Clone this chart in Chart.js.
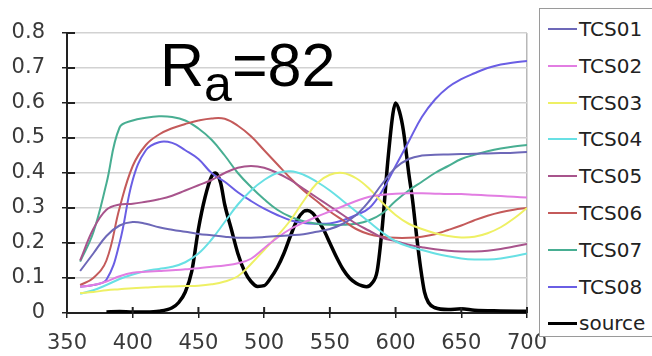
<!DOCTYPE html>
<html lang="en">
<head>
    <meta charset="UTF-8">
    <title>TCS reflectance and source spectrum</title>
    <script src="https://cdn.jsdelivr.net/npm/chart.js"></script>
    <style>
        html, body { margin: 0; padding: 0; background: #fff; }
        .wrap { position: relative; width: 652px; height: 356px; overflow: hidden; }
        #spectrum { position: absolute; left: 0; top: 0; }
        .ra {
            position: absolute; left: 160px; top: 35px;
            font-family: "Liberation Sans", Arial, sans-serif;
            font-size: 61px; line-height: 61px; color: #000; white-space: nowrap;
        }
        .ra .sub { font-size: 50px; position: relative; top: 15px; }
        .legend {
            position: absolute; left: 539px; top: 8px; width: 130px; height: 327px;
            border: 1.5px solid #9a9a9a; background: #fff;
        }
        .legend .row { position: absolute; left: 0; height: 22px; }
        .legend .swatch { position: absolute; left: 8px; width: 29px; }
        .legend .name {
            position: absolute; left: 39px; top: 0; line-height: 22px;
            font-family: "DejaVu Sans", sans-serif; font-size: 20px; color: #222; white-space: nowrap;
        }
    </style>
</head>
<body>
    <div class="wrap">
        <canvas id="spectrum" width="652" height="356"></canvas>
        <div class="ra">R<span class="sub">a</span>=82</div>
        <div class="legend" id="legend"></div>
    </div>

    <script>
        // wavelengths (nm) for the test colour samples
        const wavelengths = [360, 370, 380, 390, 400, 410, 420, 430, 440, 450, 460, 470, 480, 490, 500,
            510, 520, 530, 540, 550, 560, 570, 580, 590, 600, 610, 620, 630, 640, 650, 660, 670, 680, 690, 700];

        const tcs01 = [0.12, 0.17, 0.22, 0.25, 0.26, 0.255, 0.245, 0.238, 0.232, 0.226, 0.222, 0.218, 0.215, 0.215, 0.217,
            0.22, 0.222, 0.225, 0.232, 0.24, 0.255, 0.28, 0.32, 0.37, 0.415, 0.44, 0.45, 0.452, 0.453, 0.454, 0.455, 0.456, 0.457, 0.458, 0.46];
        const tcs02 = [0.075, 0.08, 0.09, 0.105, 0.115, 0.118, 0.12, 0.122, 0.125, 0.128, 0.132, 0.136, 0.142, 0.155, 0.185,
            0.215, 0.24, 0.258, 0.275, 0.29, 0.305, 0.32, 0.332, 0.338, 0.341, 0.342, 0.342, 0.341, 0.34, 0.34, 0.338, 0.336, 0.334, 0.332, 0.33];
        const tcs03 = [0.057, 0.06, 0.065, 0.068, 0.071, 0.073, 0.075, 0.076, 0.077, 0.078, 0.082, 0.09, 0.105, 0.14, 0.18,
            0.22, 0.265, 0.32, 0.37, 0.395, 0.4, 0.385, 0.355, 0.315, 0.28, 0.255, 0.24, 0.228, 0.22, 0.216, 0.218, 0.228, 0.245, 0.27, 0.3];
        const tcs04 = [0.055, 0.065, 0.08, 0.097, 0.11, 0.12, 0.126, 0.132, 0.145, 0.17, 0.21, 0.26, 0.31, 0.35, 0.38,
            0.4, 0.405, 0.395, 0.375, 0.35, 0.32, 0.29, 0.26, 0.23, 0.205, 0.19, 0.18, 0.17, 0.162, 0.156, 0.153, 0.153, 0.156, 0.162, 0.17];
        const tcs05 = [0.15, 0.24, 0.295, 0.31, 0.312, 0.318, 0.325, 0.335, 0.35, 0.365, 0.38, 0.4, 0.415, 0.42, 0.415,
            0.4, 0.38, 0.355, 0.33, 0.305, 0.28, 0.255, 0.235, 0.215, 0.205, 0.195, 0.188, 0.182, 0.178, 0.176, 0.176, 0.178, 0.183, 0.19, 0.197];
        const tcs06 = [0.08, 0.1, 0.15, 0.3, 0.42, 0.48, 0.51, 0.528, 0.54, 0.55, 0.556, 0.555, 0.535, 0.505, 0.465,
            0.425, 0.385, 0.35, 0.32, 0.29, 0.265, 0.24, 0.225, 0.218, 0.215, 0.215, 0.218, 0.225, 0.237, 0.25, 0.265, 0.278, 0.288, 0.295, 0.3];
        const tcs07 = [0.147, 0.23, 0.37, 0.53, 0.55, 0.558, 0.562, 0.56, 0.55, 0.527, 0.495, 0.45, 0.4, 0.36, 0.325,
            0.295, 0.275, 0.262, 0.255, 0.252, 0.252, 0.255, 0.265, 0.285, 0.32, 0.35, 0.375, 0.4, 0.42, 0.44, 0.452, 0.462, 0.47, 0.476, 0.48];
        const tcs08 = [0.075, 0.08, 0.095, 0.2, 0.38, 0.465, 0.488, 0.486, 0.465, 0.44, 0.4, 0.375, 0.345, 0.32, 0.298,
            0.28, 0.265, 0.257, 0.255, 0.256, 0.265, 0.28, 0.3, 0.35, 0.42, 0.49, 0.56, 0.61, 0.645, 0.668, 0.685, 0.7, 0.71, 0.716, 0.72];

        // source spectrum, sampled more finely around the peaks
        const sourceWl = [380, 390, 400, 410, 420, 430, 435, 440, 445, 450, 455, 460, 463, 467, 470, 475, 480, 485, 490, 495,
            500, 505, 510, 515, 520, 525, 530, 533, 537, 540, 545, 550, 555, 560, 565, 570, 575, 578, 582, 586, 590, 594, 598,
            600, 603, 606, 610, 613, 616, 619, 622, 625, 630, 640, 650, 660, 680, 700];
        const sourceVal = [0.003, 0.004, 0.003, 0.003, 0.005, 0.015, 0.03, 0.06, 0.12, 0.24, 0.33, 0.39, 0.4, 0.37, 0.31, 0.24, 0.17, 0.12, 0.09, 0.076,
            0.078, 0.1, 0.13, 0.17, 0.22, 0.265, 0.29, 0.293, 0.285, 0.27, 0.24, 0.2, 0.16, 0.125, 0.1, 0.085, 0.077, 0.075, 0.085, 0.12, 0.25, 0.43, 0.57,
            0.6, 0.575, 0.52, 0.4, 0.32, 0.22, 0.13, 0.06, 0.03, 0.015, 0.01, 0.012, 0.008, 0.006, 0.005];

        const seriesNames = ['TCS01', 'TCS02', 'TCS03', 'TCS04', 'TCS05', 'TCS06', 'TCS07', 'TCS08', 'source'];
        const seriesColors = ['#6d68b8', '#e27de2', '#eef064', '#68e0e4', '#a8548c', '#c45a5a', '#48ae92', '#6a5ee4', '#000000'];
        const tcsValues = [tcs01, tcs02, tcs03, tcs04, tcs05, tcs06, tcs07, tcs08];

        const xTicks = [350, 400, 450, 500, 550, 600, 650, 700];
        const yTickLabels = ['0', '0.1', '0.2', '0.3', '0.4', '0.5', '0.6', '0.7', '0.8'];

        const datasets = tcsValues.map((vals, i) => ({
            label: seriesNames[i],
            data: vals.map((v, j) => ({ x: wavelengths[j], y: v })),
            borderColor: seriesColors[i],
            borderWidth: 2,
            pointRadius: 0,
            tension: 0.4
        }));
        datasets.push({
            label: seriesNames[8],
            data: sourceVal.map((v, j) => ({ x: sourceWl[j], y: v })),
            borderColor: seriesColors[8],
            borderWidth: 3.5,
            pointRadius: 0,
            cubicInterpolationMode: 'monotone'
        });

        // small tick marks reaching into the plot, like the original axes
        const innerTicks = {
            id: 'innerTicks',
            afterDraw(chart) {
                const ctx = chart.ctx;
                const xs = chart.scales.x, ys = chart.scales.y;
                ctx.save();
                ctx.strokeStyle = '#222';
                ctx.lineWidth = 2;
                ctx.beginPath();
                ys.ticks.forEach(t => {
                    const py = ys.getPixelForValue(t.value);
                    ctx.moveTo(xs.left, py);
                    ctx.lineTo(xs.left + 8, py);
                });
                xs.ticks.forEach(t => {
                    const px = xs.getPixelForValue(t.value);
                    ctx.moveTo(px, ys.bottom);
                    ctx.lineTo(px, ys.bottom - 6);
                });
                ctx.stroke();
                ctx.restore();
            }
        };

        const tickFont = { family: 'DejaVu Sans', size: 21 };

        new Chart(document.getElementById('spectrum'), {
            type: 'line',
            data: { datasets: datasets },
            options: {
                responsive: false,
                animation: false,
                layout: { padding: { left: 0, top: 33, right: 125, bottom: 0 } },
                plugins: { legend: { display: false }, tooltip: { enabled: false } },
                scales: {
                    x: {
                        type: 'linear',
                        min: 350,
                        max: 700,
                        afterFit: s => { s.height = 43; },
                        afterBuildTicks: s => { s.ticks = xTicks.map(v => ({ value: v })); },
                        ticks: { font: tickFont, color: '#3a3a3a', padding: 13, maxRotation: 0, autoSkip: false },
                        grid: {
                            color: c => (c.tick && c.tick.value === 700 ? '#b8b8b8' : 'rgba(0,0,0,0)'),
                            lineWidth: 1.5,
                            tickColor: '#222',
                            tickLength: 5
                        },
                        border: { display: true, color: '#222', width: 2 }
                    },
                    y: {
                        min: 0,
                        max: 0.8,
                        afterFit: s => { s.width = 67; },
                        ticks: {
                            stepSize: 0.1,
                            font: tickFont,
                            color: '#3a3a3a',
                            padding: 17,
                            callback: (v) => yTickLabels[Math.round(v * 10)]
                        },
                        grid: {
                            color: '#d2d2d2',
                            lineWidth: 1.5,
                            tickColor: '#222',
                            tickLength: 5
                        },
                        border: { display: true, color: '#222', width: 2 }
                    }
                }
            },
            plugins: [innerTicks]
        });

        // legend box built from the same names and colours
        const legend = document.getElementById('legend');
        seriesNames.forEach((name, i) => {
            const row = document.createElement('div');
            row.className = 'row';
            row.style.top = (9 + i * 36.8) + 'px';
            const sw = document.createElement('div');
            sw.className = 'swatch';
            const h = i === 8 ? 3.5 : 2;
            sw.style.height = h + 'px';
            sw.style.top = (11 - h / 2) + 'px';
            sw.style.background = seriesColors[i];
            const label = document.createElement('span');
            label.className = 'name';
            label.textContent = name;
            row.appendChild(sw);
            row.appendChild(label);
            legend.appendChild(row);
        });
    </script>
</body>
</html>
